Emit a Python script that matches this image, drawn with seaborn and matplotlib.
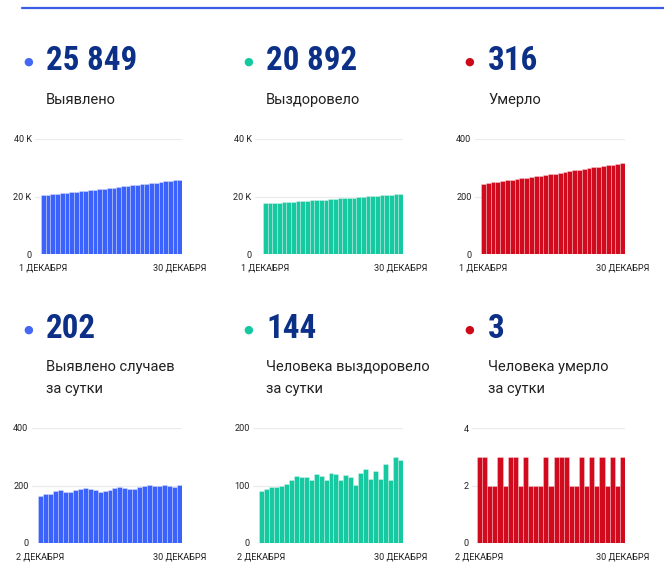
import matplotlib
matplotlib.use("Agg")
import matplotlib.pyplot as plt
import seaborn as sns
from matplotlib import font_manager

sns.set_theme(style="white")
plt.rcParams["font.family"] = ["Roboto", "DejaVu Sans"]
avail = {f.name for f in font_manager.fontManager.ttflist}
cond = next((f for f in ["Roboto Condensed", "Liberation Sans Narrow", "Arial Narrow"] if f in avail), None)
if cond:
    num_family, num_size = [cond, "Roboto"], 23.8
else:
    num_family, num_size = ["Roboto"], 21
lab_family, lab_size = ["Roboto", "DejaVu Sans"], 10.5

# ---------------- data ----------------
cum_days = list(range(1, 31))
daily_days = list(range(2, 31))

cum_cases = [20407, 20572, 20742, 20914, 21094, 21278, 21454, 21630, 21814, 22001,
             22192, 22379, 22562, 22741, 22921, 23107, 23299, 23493, 23686, 23874,
             24062, 24256, 24454, 24657, 24856, 25054, 25255, 25452, 25647, 25849]
cum_recovered = [17572, 17663, 17757, 17854, 17952, 18051, 18153, 18263, 18380, 18494,
                 18609, 18718, 18838, 18955, 19065, 19187, 19307, 19416, 19535, 19650,
                 19751, 19873, 20001, 20113, 20239, 20351, 20489, 20599, 20748, 20892]
cum_deaths = [243, 246, 249, 251, 253, 256, 258, 261, 264, 266,
              269, 271, 273, 275, 278, 280, 283, 286, 289, 291,
              293, 296, 298, 301, 303, 306, 308, 311, 313, 316]

daily_cases = [165, 170, 172, 180, 184, 176, 176, 184, 187, 191, 187, 183, 179, 180, 186,
               192, 194, 193, 188, 188, 194, 198, 203, 199, 198, 201, 197, 195, 202]
daily_recovered = [91, 94, 97, 98, 99, 102, 110, 117, 114, 115, 109, 120, 117, 110, 122,
                   120, 109, 119, 115, 101, 122, 128, 112, 126, 112, 138, 110, 149, 144]
daily_deaths = [3, 3, 2, 2, 3, 2, 3, 3, 2, 3, 2, 2, 2, 3, 2,
                3, 3, 3, 2, 2, 3, 2, 3, 2, 3, 2, 3, 2, 3]

headline_top = ["25 849", "20 892", "316"]
labels_top = ["Выявлено", "Выздоровело", "Умерло"]
headline_bottom = ["202", "144", "3"]
labels_bottom_1 = ["Выявлено случаев", "Человека выздоровело", "Человека умерло"]
labels_bottom_2 = ["за сутки", "за сутки", "за сутки"]

top_yticks = [[0, 20000, 40000], [0, 20000, 40000], [0, 200, 400]]
top_yticklabels = [["0", "20 K", "40 K"], ["0", "20 K", "40 K"], ["0", "200", "400"]]
bottom_yticks = [[0, 200, 400], [0, 100, 200], [0, 2, 4]]
top_xlabels = ["1 ДЕКАБРЯ", "30 ДЕКАБРЯ"]
bottom_xlabels = ["2 ДЕКАБРЯ", "30 ДЕКАБРЯ"]

colors = ["#3b62fb", "#16c9a1", "#d20a1e"]
dot_colors = ["#4468f5", "#14c9a0", "#cc0a1a"]
navy = "#0c2f87"

# ---------------- layout ----------------
W, H = 664, 573
fig = plt.figure(figsize=(W / 100, H / 100), dpi=100)
fig.patch.set_facecolor("white")


def fx(x):
    return x / W


def fy(y):
    return 1 - y / H


# top rule
fig.add_artist(plt.Line2D([fx(22), fx(664)], [fy(8), fy(8)], color="#3b5ce6", lw=1.6))


def make_chart(left, right, top, bottom, barleft, xs, vals, yticks, yticklabels, xlabels, color):
    ax = fig.add_axes([fx(left), fy(bottom), fx(right) - fx(left), fy(top) - fy(bottom)])
    n = len(vals)
    sns.barplot(x=xs, y=vals, color=color, saturation=1, width=1.0,
                edgecolor=(1, 1, 1, 0.4), linewidth=0.5, ax=ax, zorder=2)
    barw = (right - barleft) / n
    ax.set_xlim(-0.5 - (barleft - left) / barw, n - 0.5)
    ax.set_ylim(yticks[0], yticks[-1])
    ax.set_yticks(yticks)
    ax.set_yticklabels(yticklabels)
    for t in yticks:
        ax.axhline(t, color="#ebebeb", lw=0.9, zorder=0)
    ax.set_xticks([0, n - 1])
    ax.set_xticklabels(xlabels)
    ax.tick_params(axis="both", length=0, labelsize=6.6, colors="#222222")
    ax.tick_params(axis="y", pad=2.5)
    ax.tick_params(axis="x", pad=7)
    ax.set_xlabel("")
    ax.set_ylabel("")
    for s in ax.spines.values():
        s.set_visible(False)
    ax.set_facecolor("none")
    return ax


top_geom = [(35, 182, 41), (255, 403, 263), (475, 625, 481)]
bottom_geom = [(32, 182, 38), (253, 403, 259), (472, 625, 477)]
top_series = [cum_cases, cum_recovered, cum_deaths]
bottom_series = [daily_cases, daily_recovered, daily_deaths]

for i in range(3):
    l, r, bl = top_geom[i]
    make_chart(l, r, 139, 254, bl, cum_days, top_series[i], top_yticks[i],
               top_yticklabels[i], top_xlabels, colors[i])
    l, r, bl = bottom_geom[i]
    make_chart(l, r, 428, 543, bl, daily_days, bottom_series[i], bottom_yticks[i],
               [str(v) for v in bottom_yticks[i]], bottom_xlabels, colors[i])

dot_x = [28, 248, 469]
text_x = [46, 266, 488]
for i in range(3):
    # top headers
    fig.text(fx(dot_x[i]), fy(62), "\u25CF", color=dot_colors[i], fontsize=8,
             ha="center", va="center", family=["DejaVu Sans"])
    fig.text(fx(text_x[i]), fy(61), headline_top[i], color=navy, fontsize=num_size,
             fontweight="bold", ha="left", va="center", family=num_family)
    fig.text(fx(text_x[i]), fy(100), labels_top[i], color="#222222", fontsize=lab_size,
             ha="left", va="center", family=lab_family)
    # bottom headers
    fig.text(fx(dot_x[i]), fy(330), "\u25CF", color=dot_colors[i], fontsize=8,
             ha="center", va="center", family=["DejaVu Sans"])
    fig.text(fx(text_x[i]), fy(329), headline_bottom[i], color=navy, fontsize=num_size,
             fontweight="bold", ha="left", va="center", family=num_family)
    fig.text(fx(text_x[i]), fy(367), labels_bottom_1[i], color="#222222", fontsize=lab_size,
             ha="left", va="center", family=lab_family)
    fig.text(fx(text_x[i]), fy(389), labels_bottom_2[i], color="#222222", fontsize=lab_size,
             ha="left", va="center", family=lab_family)

fig.savefig("out.png", dpi=100, facecolor="white")
